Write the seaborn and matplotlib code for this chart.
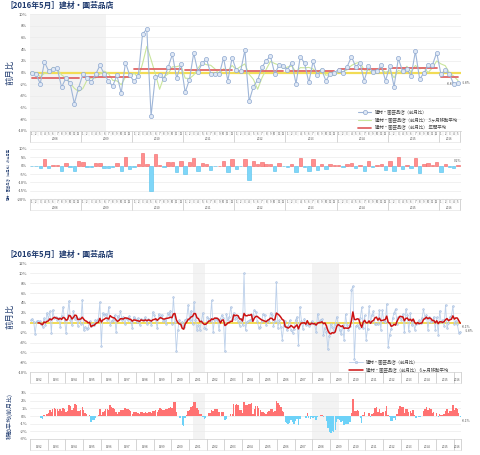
import numpy as np
import pandas as pd
import seaborn as sns
import matplotlib.pyplot as plt
from matplotlib.lines import Line2D
from matplotlib.ticker import FuncFormatter, MultipleLocator

sns.set_theme(style="white")
plt.rcParams['font.family'] = ['Noto Sans CJK JP', 'DejaVu Sans']
plt.rcParams['axes.unicode_minus'] = False

# 建材・園芸品店 前月比 (%)
mom_1992 = [0.5, 0.8, 0.2, -2.3, 0.3, 0.4, 0.3, -0.2, -0.8, 0.9, -0.5, 2.0]
mom_1993 = [0.8, 2.3, -2.0, 2.6, 0.9, 1.2, 0.5, 1.0, -0.8, 1.3, 3.2, 0.6]
mom_1994 = [-2.1, 1.5, 4.4, 0.6, -0.5, 2.4, 0.8, 1.2, -0.6, 0.9, -0.2, 4.6]
mom_1995 = [-1.5, -0.8, -1.2, -1.0, 0.3, -0.6, -0.2, -0.5, 0.6, 0.4, 0.8, 4.2]
mom_1996 = [-4.6, 2.0, 1.5, 1.8, 0.6, 3.2, -0.5, 0.4, 0.6, 1.5, -1.8, 1.4]
mom_1997 = [0.8, 2.4, 0.5, 1.2, -0.3, 1.0, 0.6, 1.4, 0.2, -1.0, 1.2, 0.8]
mom_1998 = [0.2, 0.9, -0.4, 0.8, 0.5, 0.6, 1.1, -0.2, 0.7, 0.3, -0.5, 2.2]
mom_1999 = [1.5, 0.6, -1.1, 1.8, 1.2, 1.6, 0.4, 0.6, -0.3, 2.0, 1.6, 2.4]
mom_2000 = [-0.2, 5.2, 0.2, -5.8, -1.5, 0.6, -0.5, 0.2, -0.8, 0.6, 0.8, 3.6]
mom_2001 = [0.5, 2.4, -0.3, 4.2, 0.6, -1.4, -0.5, -1.4, 0.3, 2.0, -1.0, -1.2]
mom_2002 = [1.2, 0.8, 0.4, 4.5, -1.8, 0.6, 1.0, 0.6, -1.5, 0.8, 1.6, 0.9]
mom_2003 = [-5.8, 1.8, 0.5, 1.2, 3.2, 0.8, 2.0, 0.8, 1.2, 0.4, -0.6, 0.8]
mom_2004 = [-0.5, 10.0, -1.5, 0.2, 0.3, 0.6, 0.6, 1.5, 2.5, 2.2, 0.3, -1.0]
mom_2005 = [-0.8, 0.3, 1.8, 1.5, -0.5, 0.6, 0.2, 2.0, 1.5, -0.6, 0.4, 8.2]
mom_2006 = [-1.0, 0.5, -0.8, -3.4, -0.5, 0.3, -1.5, -0.6, 0.5, -1.5, -2.0, -1.2]
mom_2007 = [0.5, 1.2, -4.4, 3.2, 0.4, -1.2, 0.8, -0.5, -0.2, -0.6, -0.3, 0.3]
mom_2008 = [0.0, -0.3, -1.9, 1.8, 0.2, 0.6, 0.7, -2.5, -1.0, -1.8, -5.3, -2.6]
mom_2009 = [-0.3, -0.9, -1.6, -0.3, 1.2, -0.2, -1.5, -2.3, -0.5, -3.5, 1.7, -0.5]
mom_2010 = [-1.5, -0.6, 6.6, 7.4, -7.4, -0.7, -0.5, -1.1, 0.9, 3.1, -1.0, 1.5]
mom_2011 = [-3.4, -1.2, 3.3, 0.1, 1.6, 2.3, -0.2, -0.3, -0.3, 2.5, -1.4, 2.5]
mom_2012 = [0.4, 0.2, 3.8, -4.9, -2.4, -1.3, 0.9, 2.0, 2.8, -0.2, 1.2, 1.1]
mom_2013 = [0.5, 1.7, -1.9, 2.7, 1.6, -1.7, 1.9, -0.5, 0.5, -1.4, -0.2, 0.0]
mom_2014 = [0.5, -0.1, 1.0, 2.7, 1.0, 1.6, -1.4, 1.1, 0.1, 0.3, 1.2, -1.4]
mom_2015 = [1.1, -2.4, 2.4, 0.2, 0.6, -0.6, 3.6, -1.1, -0.1, 1.2, 1.3, 3.4]
mom_2016 = [-0.3, 0.4, -0.3, -2.0, -1.8]

mom_all = (mom_1992 + mom_1993 + mom_1994 + mom_1995 + mom_1996 + mom_1997
           + mom_1998 + mom_1999 + mom_2000 + mom_2001 + mom_2002 + mom_2003
           + mom_2004 + mom_2005 + mom_2006 + mom_2007 + mom_2008 + mom_2009
           + mom_2010 + mom_2011 + mom_2012 + mom_2013 + mom_2014 + mom_2015
           + mom_2016)

recess_long = [("2001-04", "2001-11"), ("2008-01", "2009-06")]
recess_short = [("2008-01", "2009-06")]

title = "［2016年5月］建材・園芸品店"
lab_mom = "建材・園芸品店（前月比）"
lab_ma3 = "建材・園芸品店（前月比） 3ヶ月移動平均"
lab_avg = "建材・園芸品店（前月比） 年間平均"
lab_ma6 = "建材・園芸品店（前月比） 6ヶ月移動平均"

periods = pd.period_range("1992-01", periods=len(mom_all), freq="M")
df = pd.DataFrame({"period": periods, "year": periods.year, "month": periods.month, "mom": mom_all})
df["ma3"] = df["mom"].rolling(3).mean()
df["ma6"] = df["mom"].rolling(6).mean()
df["diff"] = df["mom"].diff()
df["idx"] = np.arange(len(df))

top = df[df["year"] >= 2008].copy()
top["idx"] = np.arange(len(top))

NAVY = "#1f3a6e"
BLUE_LINE = "#9fb6d8"
GRID = "#ebebeb"

fig = plt.figure(figsize=(4.8, 4.55), dpi=100)
W, H = 480, 455


def add_ax(top_px, bot_px, left_px=30, right_px=461):
    return fig.add_axes([left_px / W, 1 - bot_px / H, (right_px - left_px) / W, (bot_px - top_px) / H])


def style(ax, ylim, step):
    ax.set_ylim(*ylim)
    ax.yaxis.set_major_locator(MultipleLocator(step))
    ax.yaxis.set_major_formatter(FuncFormatter(lambda v, p: f"{v:.0f}%"))
    ax.yaxis.grid(True, color=GRID, lw=0.5)
    ax.set_axisbelow(True)
    for s in ["top", "right", "left"]:
        ax.spines[s].set_visible(False)
    ax.spines["bottom"].set_color("#cfcfcf")
    ax.spines["bottom"].set_linewidth(0.5)
    ax.tick_params(axis="y", labelsize=3, colors="#555555", length=0, pad=2)
    ax.set_xlabel("")
    ax.set_ylabel("")


def cells(ax, frame, hpx, months):
    trans = ax.get_xaxis_transform()
    ax.set_xticks([])
    f = lambda px: -px / hpx
    grp = frame.groupby("year")["idx"].agg(["min", "max"])
    for yr, r in grp.iterrows():
        ax.plot([r["min"] - 0.5] * 2, [0, f(11)], transform=trans, color="#c4c4c4", lw=0.5, clip_on=False)
        ax.text((r["min"] + r["max"]) / 2, f(8.5 if months else 7.5), str(yr), transform=trans,
                ha="center", va="center", fontsize=2.2, color="#555555")
    last = frame["idx"].max() + 0.5
    ax.plot([last] * 2, [0, f(11)], transform=trans, color="#c4c4c4", lw=0.5, clip_on=False)
    ax.plot([frame["idx"].min() - 0.5, last], [f(11)] * 2, transform=trans, color="#dddddd", lw=0.4, clip_on=False)
    if months:
        for _, r in frame.iterrows():
            ax.text(r["idx"], f(3), str(r["month"]), transform=trans, ha="center", va="center",
                    fontsize=2.0, color="#555555")
            if r["month"] != 1:
                ax.plot([r["idx"] - 0.5] * 2, [0, f(5)], transform=trans, color="#dddddd", lw=0.3, clip_on=False)


def shade(ax, frame, spans):
    for a, b in spans:
        i0 = frame.loc[frame["period"] == pd.Period(a, "M"), "idx"].iloc[0]
        i1 = frame.loc[frame["period"] == pd.Period(b, "M"), "idx"].iloc[0]
        ax.axvspan(i0 - 0.5, i1 + 0.5, color="#f3f3f3", zorder=0, lw=0)


def sign_bars(ax, frame, col, pos_c, neg_c, pos_e, neg_e, width, lw):
    d = frame.dropna(subset=[col]).copy()
    d["sign"] = np.where(d[col] >= 0, "pos", "neg")
    sns.barplot(data=d, x="idx", y=col, hue="sign", hue_order=["pos", "neg"],
                palette={"pos": pos_c, "neg": neg_c}, native_scale=True, dodge=False,
                saturation=1, legend=False, errorbar=None, width=width, ax=ax, linewidth=lw, zorder=2)
    for p in ax.patches:
        fc = p.get_facecolor()
        p.set_edgecolor(pos_e if fc[0] > 0.9 else neg_e)


# ---------- top: line chart 2008- ----------
ax1 = add_ax(14, 131)
shade(ax1, top, recess_short)
ax1.axhline(0, color="#f2dc55", lw=1.6, zorder=1)
sns.lineplot(data=top, x="idx", y="ma3", ax=ax1, color="#c9e59b", lw=0.8, zorder=2)
years = top.groupby("year").agg(x0=("idx", "min"), x1=("idx", "max"), avg=("mom", "mean")).reset_index()
seg = pd.concat([years.rename(columns={"x0": "x"})[["year", "x", "avg"]],
                 years.rename(columns={"x1": "x"})[["year", "x", "avg"]]]).sort_values(["year", "x"])
sns.lineplot(data=seg, x="x", y="avg", units="year", estimator=None, ax=ax1, color="#e06666", lw=1.3, zorder=3)
sns.lineplot(data=top, x="idx", y="mom", ax=ax1, color=BLUE_LINE, lw=0.8, marker="o", markersize=3,
             markerfacecolor="#dfe8f5", markeredgecolor="#8ea8d0", markeredgewidth=0.5, zorder=4)
ax1.set_xlim(-0.4, 100.7)
style(ax1, (-10, 10), 2)
cells(ax1, top, 117, True)
last = top.iloc[-1]
ax1.text(last["idx"] + 1.0, last["mom"], f"{last['mom']:.1f}%", fontsize=2.4, color="#555555", va="center")
ax1.text(years["x1"].iloc[-1] - 1.5, years["avg"].iloc[-1] - 1.1, f"{years['avg'].iloc[-1]:.1f}%",
         fontsize=2.4, color="#555555", va="center", ha="center")
h1 = [Line2D([], [], color=BLUE_LINE, lw=0.8, marker="o", markersize=3, markerfacecolor="#dfe8f5",
             markeredgecolor="#8ea8d0", markeredgewidth=0.5),
      Line2D([], [], color="#c9e59b", lw=0.8),
      Line2D([], [], color="#e06666", lw=1.3)]
ax1.legend(h1, [lab_mom, lab_ma3, lab_avg], loc="lower right", bbox_to_anchor=(1.0, -0.03),
           frameon=False, fontsize=3.2, handlelength=3, labelspacing=0.6, labelcolor="#444444")
fig.text(10 / W, 1 - 72 / H, "前月比", rotation=90, fontsize=6, color=NAVY, ha="center", va="center")

# ---------- top: bars (前月差) ----------
ax2 = add_ax(148.7, 199.3)
sign_bars(ax2, top, "diff", "#ff8e8e", "#7fd6f8", "#f06464", "#52c0ec", 0.8, 0.4)
ax2.set_xlim(-0.4, 100.7)
style(ax2, (-20, 10), 5)
cells(ax2, top, 50.6, True)
ax2.text(last["idx"], last["diff"] + 2.2, f"{last['diff']:.1f}%", fontsize=2.4, color="#555555", ha="center")
fig.text(9 / W, 1 - 174 / H, "建材・園芸品店（前月比）の前月差", rotation=90, fontsize=2.3, color=NAVY,
         ha="center", va="center")

# ---------- bottom: line chart 1992- ----------
ax3 = add_ax(263.3, 372.3)
shade(ax3, df, recess_long)
ax3.axhline(0, color="#f2dc55", lw=1.4, zorder=1)
sns.lineplot(data=df, x="idx", y="mom", ax=ax3, color="#bcd0ea", lw=0.6, marker="o", markersize=1.3,
             markerfacecolor="#c9d9ee", markeredgecolor="#9fb8dc", markeredgewidth=0.3, zorder=2)
sns.lineplot(data=df, x="idx", y="ma6", ax=ax3, color="#cc1111", lw=1.1, zorder=3)
ax3.set_xlim(-0.5, 292.5)
style(ax3, (-10, 12), 2)
cells(ax3, df, 109, False)
lastb = df.iloc[-1]
ax3.text(lastb["idx"] + 1, lastb["ma6"] - 0.7, f"{lastb['ma6']:.1f}%", fontsize=2.4, color="#555555", va="center")
ax3.text(lastb["idx"] + 3, lastb["mom"] + 0.2, f"{lastb['mom']:.1f}%", fontsize=2.4, color="#555555", va="center")
h3 = [Line2D([], [], color="#bcd0ea", lw=0.6, marker="o", markersize=1.8, markerfacecolor="#c9d9ee",
             markeredgecolor="#9fb8dc", markeredgewidth=0.3),
      Line2D([], [], color="#cc1111", lw=1.1)]
ax3.legend(h3, [lab_mom, lab_ma6], loc="lower right", bbox_to_anchor=(0.98, -0.04),
           frameon=False, fontsize=3.2, handlelength=3, labelspacing=0.6, labelcolor="#444444")
fig.text(10 / W, 1 - 316 / H, "前月比", rotation=90, fontsize=6, color=NAVY, ha="center", va="center")

# ---------- bottom: bars (6ヶ月移動平均) ----------
ax4 = add_ax(393, 439)
shade(ax4, df, recess_long)
sign_bars(ax4, df, "ma6", "#ff7272", "#6dd2f8", "#ff7272", "#6dd2f8", 0.95, 0)
ax4.set_xlim(-0.5, 292.5)
style(ax4, (-3, 3), 1)
cells(ax4, df, 46, False)
ax4.text(lastb["idx"] + 1, lastb["ma6"] - 0.5, f"{lastb['ma6']:.1f}%", fontsize=2.4, color="#555555", va="center")
fig.text(10 / W, 1 - 416 / H, "移動平均(前月比)", rotation=90, fontsize=4.3, color=NAVY, ha="center", va="center")

fig.text(5 / W, 1 - 5.5 / H, title, fontsize=5.6, fontweight="bold", color=NAVY, va="center")
fig.text(5 / W, 1 - 254.5 / H, title, fontsize=5.6, fontweight="bold", color=NAVY, va="center")

fig.savefig("out.png", dpi=100)
